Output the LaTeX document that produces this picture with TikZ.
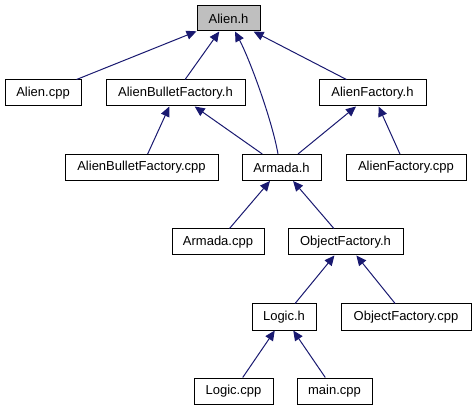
\documentclass[tikz,border=0pt]{standalone}
\usepackage{fontspec}
\setmainfont{Liberation Sans}
\usetikzlibrary{arrows.meta}
\definecolor{edgeblue}{RGB}{25,25,112}
\definecolor{rootgray}{RGB}{191,191,191}
\tikzset{
  box/.style={draw=black, line width=1pt, fill=white, inner sep=0pt,
    minimum height=26pt, font=\fontsize{13pt}{15pt}\selectfont, anchor=center},
  dep/.style={draw=edgeblue, line width=1pt, -{Triangle[length=10pt,width=9pt]}}
}
\begin{document}
\begin{tikzpicture}[x=1pt,y=-1pt]
\useasboundingbox (0,0) rectangle (476,411);
\node[box, fill=rootgray, minimum width=63pt, minimum height=25pt] (alienh) at (228.5,18.5) {Alien.h};
\node[box, minimum width=76pt] (aliencpp) at (43,93) {Alien.cpp};
\node[box, minimum width=139pt] (abfh) at (175.5,93) {AlienBulletFactory.h};
\node[box, minimum width=107pt] (afh) at (372.5,93) {AlienFactory.h};
\node[box, minimum width=153pt] (abfcpp) at (141.5,167.5) {AlienBulletFactory.cpp};
\node[box, minimum width=79pt] (armadah) at (281.5,167.5) {Armada.h};
\node[box, minimum width=120pt] (afcpp) at (406,167.5) {AlienFactory.cpp};
\node[box, minimum width=92pt] (armadacpp) at (218,242) {Armada.cpp};
\node[box, minimum width=115pt] (ofh) at (345.5,242) {ObjectFactory.h};
\node[box, minimum width=64pt] (logich) at (284,317) {Logic.h};
\node[box, minimum width=130pt] (ofcpp) at (406,317) {ObjectFactory.cpp};
\node[box, minimum width=79pt] (logiccpp) at (233.5,391) {Logic.cpp};
\node[box, minimum width=75pt] (maincpp) at (334.5,391) {main.cpp};

\draw[dep] (aliencpp) -- (alienh);
\draw[dep] (abfh) -- (alienh);
\draw[dep] ([xshift=-3.5pt]armadah.north) .. controls (272,120) and (250,60) .. ([xshift=6.5pt]alienh.south);
\draw[dep] (afh) -- (alienh);
\draw[dep] (abfcpp) -- (abfh);
\draw[dep] (armadah) -- (abfh);
\draw[dep] (armadah) -- (afh);
\draw[dep] (afcpp) -- (afh);
\draw[dep] (armadacpp) -- (armadah);
\draw[dep] (ofh) -- (armadah);
\draw[dep] (logich) -- (ofh);
\draw[dep] (ofcpp) -- (ofh);
\draw[dep] (logiccpp) -- (logich);
\draw[dep] (maincpp) -- (logich);
\end{tikzpicture}
\end{document}
